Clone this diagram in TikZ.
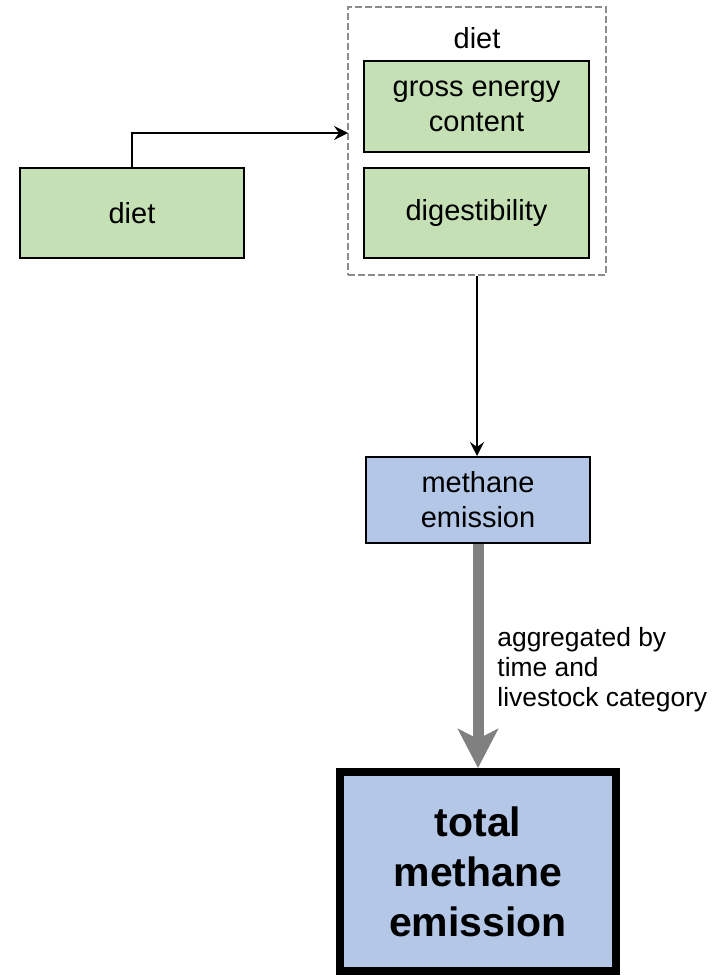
\documentclass[tikz,border=0pt]{standalone}
\usepackage{fontspec}
\setmainfont{Liberation Sans}
\usetikzlibrary{arrows.meta}
\definecolor{FeedGreen}{HTML}{C5E0B4}
\definecolor{EmisBlue}{HTML}{B4C7E7}
\definecolor{FrameGray}{HTML}{8C8C8C}
\definecolor{FlowGray}{HTML}{808080}

\begin{document}
\begin{tikzpicture}[x=0.5pt, y=-0.5pt, >=Stealth,
    inbox/.style={draw, line width=1pt, fill=FeedGreen, align=center,
      inner sep=0pt, font=\fontsize{14.5}{17.5}\selectfont},
    outbox/.style={draw, line width=1pt, fill=EmisBlue, align=center,
      inner sep=0pt, font=\fontsize{14.5}{17.5}\selectfont},
    link/.style={line width=1pt, -{Stealth[length=7pt, width=7pt, inset=2.5pt]}},
    aggr/.style={line width=5.5pt, FlowGray,
      -{Stealth[length=19.5pt, width=20pt, inset=5pt]}}]
  \useasboundingbox (0,0) rectangle (711,977);
  % Diet input
  \node[inbox, minimum width=112pt, minimum height=45pt] (dietsrc) at (132,213) {diet};
  % Diet group
  \node[draw=FrameGray, line width=1pt, dash pattern=on 3.5pt off 1.5pt,
    minimum width=129pt, minimum height=134pt] (group) at (477,141) {};
  \node[inner sep=0pt, font=\fontsize{14.5}{17.5}\selectfont] (grouptitle) at (477,38) {diet};
  \node[inbox, minimum width=112.5pt, minimum height=45.5pt] (gross) at (476.5,106.5) {gross energy\\content};
  \node[inbox, minimum width=112.5pt, minimum height=45pt] (digest) at (476.5,213) {digestibility};
  \coordinate (feed) at (348,133);
  % Emissions
  \node[outbox, minimum width=112pt, minimum height=43pt] (methane) at (478,500) {methane\\emission};
  \node[outbox, line width=4pt, minimum width=138pt, minimum height=99.5pt,
    font=\bfseries\fontsize{20.5}{25}\selectfont] (total) at (478,871.5) {total\\methane\\emission};
  \node[anchor=west, align=left, inner sep=0pt, font=\fontsize{13.2}{15}\selectfont]
    (aggrlabel) at (497,670) {aggregated by\\time and\\livestock category};
  % Connectors
  \draw[link] (dietsrc.north) |- (feed);
  \draw[link] (group.south) -- (group.south |- methane.north);
  \draw[aggr] (methane.south) -- (total.north);
\end{tikzpicture}
\end{document}
